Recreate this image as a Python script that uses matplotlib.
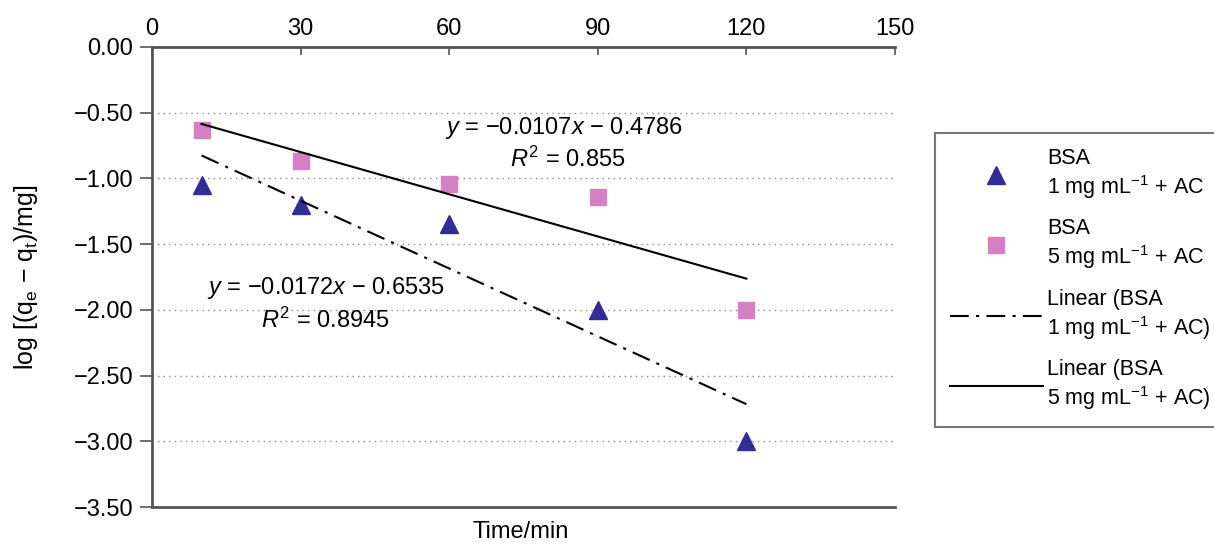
import matplotlib
matplotlib.use("Agg")
import matplotlib.pyplot as plt
import numpy as np

plt.rcParams['font.family'] = ['Liberation Sans', 'DejaVu Sans']
plt.rcParams['mathtext.fontset'] = 'custom'
plt.rcParams['mathtext.rm'] = 'Liberation Sans'
plt.rcParams['mathtext.it'] = 'Liberation Sans:italic'

# data
time_min = [10, 30, 60, 90, 120]
bsa_1mg = [-1.05, -1.20, -1.35, -2.00, -3.00]
bsa_5mg = [-0.63, -0.87, -1.04, -1.14, -2.00]

# trendline coefficients as printed on the chart
slope_1mg, intercept_1mg = -0.0172, -0.6535
slope_5mg, intercept_5mg = -0.0107, -0.4786
fit_x = [10, 120]

x_ticks = [0, 30, 60, 90, 120, 150]
y_ticks = [0.00, -0.50, -1.00, -1.50, -2.00, -2.50, -3.00, -3.50]

fig = plt.figure(figsize=(12.14, 5.46), dpi=100)
ax = fig.add_axes([0.1252, 0.0714, 0.612, 0.8426])

ax.plot(time_min, bsa_1mg, linestyle='none', marker='^', markersize=13.5,
        color='#332b96', label='BSA\n1 mg mL$^{-1}$ + AC')
ax.plot(time_min, bsa_5mg, linestyle='none', marker='s', markersize=11,
        color='#d57fc5', label='BSA\n5 mg mL$^{-1}$ + AC')

fx = np.array(fit_x)
ax.plot(fx, slope_1mg * fx + intercept_1mg, color='black', linewidth=1.5,
        dashes=(9, 3.5, 1.5, 3.5), label='Linear (BSA\n1 mg mL$^{-1}$ + AC)')
ax.plot(fx, slope_5mg * fx + intercept_5mg, color='black', linewidth=1.5,
        label='Linear (BSA\n5 mg mL$^{-1}$ + AC)')

eq_size = 17
ax.text(83.2, -0.616, '$y$ = \u22120.0107$x$ \u2212 0.4786', fontsize=eq_size, ha='center', va='center')
ax.text(84.0, -0.852, '$R^2$ = 0.855', fontsize=eq_size, ha='center', va='center')
ax.text(35.1, -1.834, '$y$ = \u22120.0172$x$ \u2212 0.6535', fontsize=eq_size, ha='center', va='center')
ax.text(35.1, -2.078, '$R^2$ = 0.8945', fontsize=eq_size, ha='center', va='center')

ax.set_xlim(0, 150)
ax.set_ylim(-3.5, 0)
ax.set_xticks(x_ticks)
ax.set_yticks(y_ticks)
ax.set_yticklabels(['%.2f' % v if v == 0 else '\u2212%.2f' % abs(v) for v in y_ticks])

ax.xaxis.tick_top()
ax.tick_params(axis='x', direction='in', length=6, width=1.2, color='#555555',
               labelsize=17, pad=5)
ax.tick_params(axis='y', direction='out', length=8.5, width=1.2, color='#555555',
               labelsize=17, pad=5)
ax.yaxis.grid(True, linestyle=(0, (1, 3)), color='#888888', linewidth=1)

for side in ['top', 'bottom', 'left']:
    ax.spines[side].set_color('#555555')
    ax.spines[side].set_linewidth(2)
ax.spines['right'].set_visible(False)

ax.set_ylabel('log [(q$_\\mathrm{e}$ \u2212 q$_\\mathrm{t}$)/mg]', fontsize=18, labelpad=24)
fig.text(0.429, 0.005, 'Time/min', fontsize=17, ha='center', va='bottom')

leg = ax.legend(loc='upper left', bbox_to_anchor=(1.054, 0.813), fontsize=15.5,
                frameon=True, fancybox=False, edgecolor='#555555',
                labelspacing=0.8, handlelength=4.3, handletextpad=0.2,
                borderpad=0.7, borderaxespad=0)
leg.get_frame().set_linewidth(1.5)

fig.savefig('out.png', dpi=100)
